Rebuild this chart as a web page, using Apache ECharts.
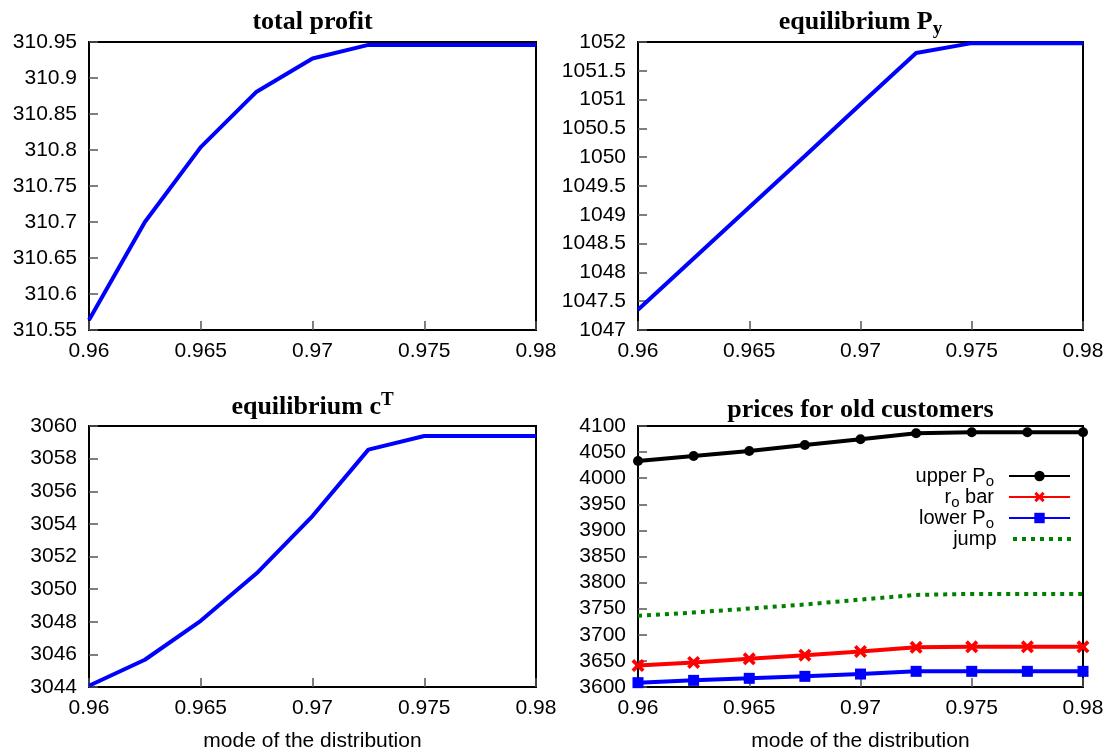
<!DOCTYPE html>
<html>
<head>
<meta charset="utf-8">
<script src="https://cdn.jsdelivr.net/npm/echarts@6/dist/echarts.min.js"></script>
<style>
  html, body { margin: 0; padding: 0; background: #fff; }
  #chart { width: 1115px; height: 755px; }
</style>
</head>
<body>
<div id="chart"></div>
<script>
// x values: mode of the distribution
const modes = [0.96, 0.9625, 0.965, 0.9675, 0.97, 0.9725, 0.975, 0.9775, 0.98]
const xRange = [0.96, 0.98, 0.005]

// series
const totalProfit = [310.564, 310.7, 310.804, 310.881, 310.927, 310.946, 310.946, 310.946, 310.946]
const equilibriumPy = [1047.35, 1048.24, 1049.13, 1050.02, 1050.92, 1051.81, 1051.98, 1051.98, 1051.98]
const equilibriumCT = [3044.08, 3045.67, 3048.06, 3050.97, 3054.48, 3058.55, 3059.39, 3059.38, 3059.39]
const upperPo = [4033, 4042.7, 4052, 4063.7, 4074.5, 4086, 4088, 4088, 4088]
const roBar = [3641, 3647, 3654, 3661, 3668, 3676, 3677, 3677, 3677]
const lowerPo = [3608.3, 3612.7, 3616.6, 3620.4, 3624.8, 3630, 3630, 3630, 3630]
const jump = [3736.3, 3742.7, 3750.3, 3758, 3767.5, 3776.4, 3778.3, 3778.3, 3778.3]

// y axis [min, max, interval] per panel
const profitRange = [310.55, 310.95, 0.05]
const pyRange = [1047, 1052, 0.5]
const ctRange = [3044, 3060, 2]
const pricesRange = [3600, 4100, 50]

const titles = ['total profit', 'equilibrium P{sub|y}', 'equilibrium c{sup|T}', 'prices for old customers']
const legendNames = ['upper P{sub|o}', 'r{sub|o} bar', 'lower P{sub|o}', 'jump']

const pairs = arr => modes.map((x, i) => [x, arr[i]])
const fmt = v => String(+v.toFixed(4))

const sans = 'Liberation Sans'
const serif = 'Liberation Serif'

const grids = [
  { left: 89, top: 42, width: 447, height: 288 },
  { left: 638, top: 42, width: 445, height: 288 },
  { left: 89, top: 426, width: 447, height: 261 },
  { left: 638, top: 426, width: 445, height: 261 }
]
const yRanges = [profitRange, pyRange, ctRange, pricesRange]

const titleStyle = {
  fontFamily: serif,
  fontWeight: 'bold',
  fontSize: 26,
  color: '#000',
  rich: {
    sub: { fontFamily: serif, fontWeight: 'bold', fontSize: 19, lineHeight: 19, padding: [14, 0, 0, 0] },
    sup: { fontFamily: serif, fontWeight: 'bold', fontSize: 19, lineHeight: 19, padding: [0, 0, 14, 0] }
  }
}
const titleTops = [9, 9, 394, 397]

const legendText = {
  fontFamily: sans,
  fontSize: 20,
  color: '#000',
  padding: [0, 10, 0, 0],
  rich: {
    sub: { fontFamily: sans, fontSize: 15, lineHeight: 15, padding: [11, 0, 0, 0] }
  }
}

// dotted legend sample for jump
let dots = 'path://M0,0L0.01,0Z M0,13L0.01,13Z'
for (let x = 0; x < 60; x += 9) dots += ` M${x},4.5h4v4h-4z`

const xSymbol = 'path://M0,2L2,0L5,3L8,0L10,2L7,5L10,8L8,10L5,7L2,10L0,8L3,5Z'

const legendRows = [476, 497, 518, 539]
const legendSeries = ['upper', 'robar', 'lower', 'jump']

const option = {
  animation: false,
  backgroundColor: '#fff',
  title: titles.map((t, i) => ({
    text: t,
    left: grids[i].left + grids[i].width / 2,
    top: titleTops[i],
    textAlign: 'center',
    padding: 0,
    textStyle: titleStyle
  })),
  legend: legendSeries.map((name, i) => ({
    data: i === 3 ? [{ name, icon: dots }] : [name],
    formatter: () => legendNames[i],
    orient: 'vertical',
    align: 'right',
    right: 44,
    top: legendRows[i] - (i === 3 ? 10 : 13),
    padding: 0,
    itemWidth: 61,
    itemHeight: 13,
    selectedMode: false,
    textStyle: legendText
  })),
  grid: grids.map(g => ({
    ...g,
    show: true,
    borderColor: '#000',
    borderWidth: 2,
    containLabel: false
  })),
  xAxis: grids.map((g, i) => ({
    type: 'value',
    gridIndex: i,
    min: xRange[0],
    max: xRange[1],
    interval: xRange[2],
    name: i >= 2 ? 'mode of the distribution' : '',
    nameLocation: 'middle',
    nameGap: 44,
    nameTextStyle: { fontFamily: sans, fontSize: 21, color: '#000' },
    axisLine: { show: false },
    axisTick: { show: true, inside: true, length: 9, lineStyle: { color: '#555', width: 1.5 } },
    splitLine: { show: false },
    axisLabel: { fontFamily: sans, fontSize: 21, color: '#000', margin: 11, formatter: fmt }
  })),
  yAxis: yRanges.map((r, i) => ({
    type: 'value',
    gridIndex: i,
    min: r[0],
    max: r[1],
    interval: r[2],
    axisLine: { show: false },
    axisTick: { show: true, inside: true, length: 9, lineStyle: { color: '#555', width: 1.5 } },
    splitLine: { show: false },
    axisLabel: { fontFamily: sans, fontSize: 21, color: '#000', margin: 12, formatter: fmt }
  })),
  series: [
    {
      type: 'line', xAxisIndex: 0, yAxisIndex: 0, data: pairs(totalProfit),
      showSymbol: false, symbol: 'none', clip: false,
      lineStyle: { color: '#0000ff', width: 4 }
    },
    {
      type: 'line', xAxisIndex: 1, yAxisIndex: 1, data: pairs(equilibriumPy),
      showSymbol: false, symbol: 'none', clip: false,
      lineStyle: { color: '#0000ff', width: 4 }
    },
    {
      type: 'line', xAxisIndex: 2, yAxisIndex: 2, data: pairs(equilibriumCT),
      showSymbol: false, symbol: 'none', clip: false,
      lineStyle: { color: '#0000ff', width: 4 }
    },
    {
      name: 'upper', type: 'line', xAxisIndex: 3, yAxisIndex: 3, data: pairs(upperPo),
      symbol: 'circle', symbolSize: 10, clip: false,
      itemStyle: { color: '#000' },
      lineStyle: { color: '#000', width: 4 }
    },
    {
      name: 'robar', type: 'line', xAxisIndex: 3, yAxisIndex: 3, data: pairs(roBar),
      symbol: xSymbol, symbolSize: 13, clip: false,
      itemStyle: { color: '#ff0000' },
      lineStyle: { color: '#ff0000', width: 4 }
    },
    {
      name: 'lower', type: 'line', xAxisIndex: 3, yAxisIndex: 3, data: pairs(lowerPo),
      symbol: 'rect', symbolSize: 11, clip: false,
      itemStyle: { color: '#0000ff' },
      lineStyle: { color: '#0000ff', width: 4 }
    },
    {
      name: 'jump', type: 'line', xAxisIndex: 3, yAxisIndex: 3, data: pairs(jump),
      symbol: 'none', showSymbol: false, clip: false,
      itemStyle: { color: '#008000' },
      lineStyle: { color: '#008000', width: 4, type: [4, 5] }
    }
  ]
}

const chart = echarts.init(document.getElementById('chart'))
chart.setOption(option)
window.addEventListener('resize', () => chart.resize())
</script>
</body>
</html>
